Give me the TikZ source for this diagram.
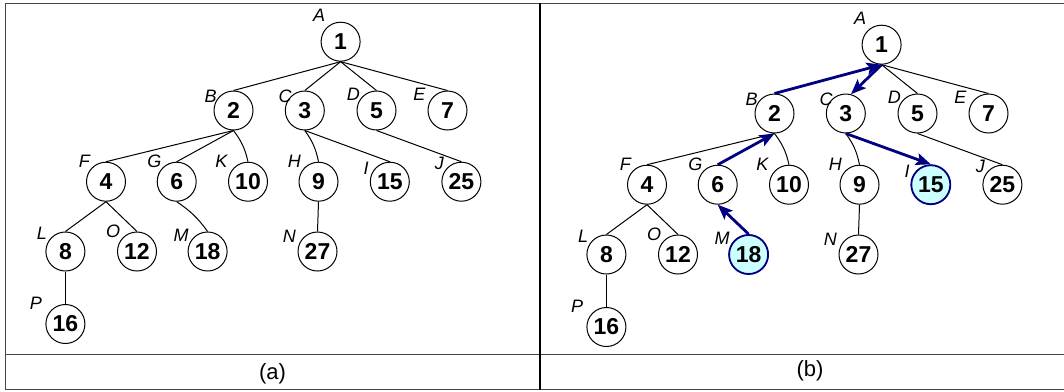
\documentclass[tikz,border=0pt]{standalone}
\usepackage{fontspec}
\setmainfont{Liberation Sans}
\usetikzlibrary{arrows.meta}
\definecolor{navy}{RGB}{0,0,128}
\definecolor{hlfill}{RGB}{204,255,255}
\definecolor{framegray}{RGB}{70,70,70}
\begin{document}
\begin{tikzpicture}[x=1pt,y=-1pt,
  vtx/.style={circle,draw,line width=1pt,minimum size=39pt,inner sep=0pt,
    font=\fontsize{23}{23}\selectfont\bfseries},
  hlv/.style={vtx,draw=navy,line width=1.8pt,fill=hlfill},
  lbl/.style={font=\fontsize{18}{18}\selectfont\itshape,inner sep=0pt},
  edge/.style={line width=1pt},
  arr/.style={draw=navy,line width=2.8pt,-{Stealth[length=15pt,width=12pt,inset=3pt]}},
  captext/.style={font=\fontsize{22}{22}\selectfont,inner sep=0pt},
  framel/.style={draw=framegray,line width=1.4pt}]
\useasboundingbox (0,0) rectangle (1064,391);
% frame
\draw[framel] (1064,3.3) -- (5.3,3.3) -- (5.3,389.5) -- (1064,389.5);
\draw[framel] (5.3,354.5) -- (1064,354.5);
\draw[line width=1.1pt] (540,3.3) -- (540,389.5);
% nodes of both panels
\foreach \p/\dx/\dy in {a/0/0,b/541/3}{
\begin{scope}[xshift=\dx pt,yshift=-\dy pt]
  \node[vtx] (\p1) at (340.6,41.7) {1};
  \node[vtx] (\p2) at (233.5,110.5) {2};
  \node[vtx] (\p3) at (304.8,110.5) {3};
  \node[vtx] (\p5) at (376.5,110.5) {5};
  \node[vtx] (\p7) at (447.5,110.5) {7};
  \node[vtx] (\p4) at (106,181.7) {4};
  \node[vtx] (\p6) at (176.7,181.7) {6};
  \node[vtx] (\p10) at (248,181.7) {10};
  \node[vtx] (\p9) at (318.5,181.7) {9};
  \node[vtx] (\p15) at (389.8,181.7) {15};
  \node[vtx] (\p25) at (461.4,181.7) {25};
  \node[vtx] (\p8) at (65.4,251.5) {8};
  \node[vtx] (\p12) at (137,251.5) {12};
  \node[vtx] (\p18) at (207.6,251.5) {18};
  \node[vtx] (\p27) at (317.5,251.5) {27};
  \node[vtx] (\p16) at (65.4,324) {16};
  \node[lbl] (\p A) at (319,15.3) {A};
  \node[lbl] (\p B) at (210.7,96) {B};
  \node[lbl] (\p C) at (285,96) {C};
  \node[lbl] (\p D) at (353.3,94) {D};
  \node[lbl] (\p E) at (419.4,94.5) {E};
  \node[lbl] (\p F) at (84.4,161.7) {F};
  \node[lbl] (\p G) at (154.3,161.7) {G};
  \node[lbl] (\p K) at (221.4,161.7) {K};
  \node[lbl] (\p H) at (294.4,161.7) {H};
  \node[lbl] (\p I) at (366,168) {I};
  \node[lbl] (\p J) at (439.4,163) {J};
  \node[lbl] (\p L) at (42,233) {L};
  \node[lbl] (\p O) at (113,231.7) {O};
  \node[lbl] (\p M) at (181,235) {M};
  \node[lbl] (\p N) at (289.3,236.5) {N};
  \node[lbl] (\p P) at (36,303.3) {P};
\end{scope}
}
% highlighted nodes of panel (b)
\node[hlv] (b15) at (b15) {15};
\node[hlv] (b18) at (b18) {18};
% edges of panel (a)
\draw[edge] (a1.south) -- (a2.north);
\draw[edge] (a1.south) -- (a3.north);
\draw[edge] (a1.south) -- (a5.north);
\draw[edge] (a1.south) -- (a7.north);
\draw[edge] (a2.south) -- (a4.north);
\draw[edge] (a2.south) -- (a6.north);
\draw[edge] (a2.south) to[bend left=12] (a10.north);
\draw[edge] (a3.south) to[bend left=12] (a9.north);
\draw[edge] (a3.south) -- (a15.north);
\draw[edge] (a5.south) -- (a25.north);
\draw[edge] (a4.south) -- (a8.north);
\draw[edge] (a4.south) -- (a12.north);
\draw[edge] (a6.south) to[bend left=10] (a18.north);
\draw[edge] (a9.south) -- (a27.north);
\draw[edge] (a8.south) -- (a16.north);
% edges of panel (b)
\draw[edge] (b1.south) -- (b5.north);
\draw[edge] (b1.south) -- (b7.north);
\draw[edge] (b2.south) -- (b4.north);
\draw[edge] (b2.south) to[bend left=12] (b10.north);
\draw[edge] (b3.south) to[bend left=12] (b9.north);
\draw[edge] (b5.south) -- (b25.north);
\draw[edge] (b4.south) -- (b8.north);
\draw[edge] (b4.south) -- (b12.north);
\draw[edge] (b9.south) -- (b27.north);
\draw[edge] (b8.south) -- (b16.north);
% arrows of panel (b)
\draw[arr] (b2.north) -- (b1.south);
\draw[arr] (b1.south) -- (b3.75);
\draw[arr] (b6.north) -- (b2.south);
\draw[arr] (b3.south) -- (b15.north);
\draw[arr] (b18.north) -- (b6.south);
% captions
\node[captext] (capa) at (272.5,373.5) {(a)};
\node[captext] (capb) at (810,371) {(b)};
\end{tikzpicture}
\end{document}
